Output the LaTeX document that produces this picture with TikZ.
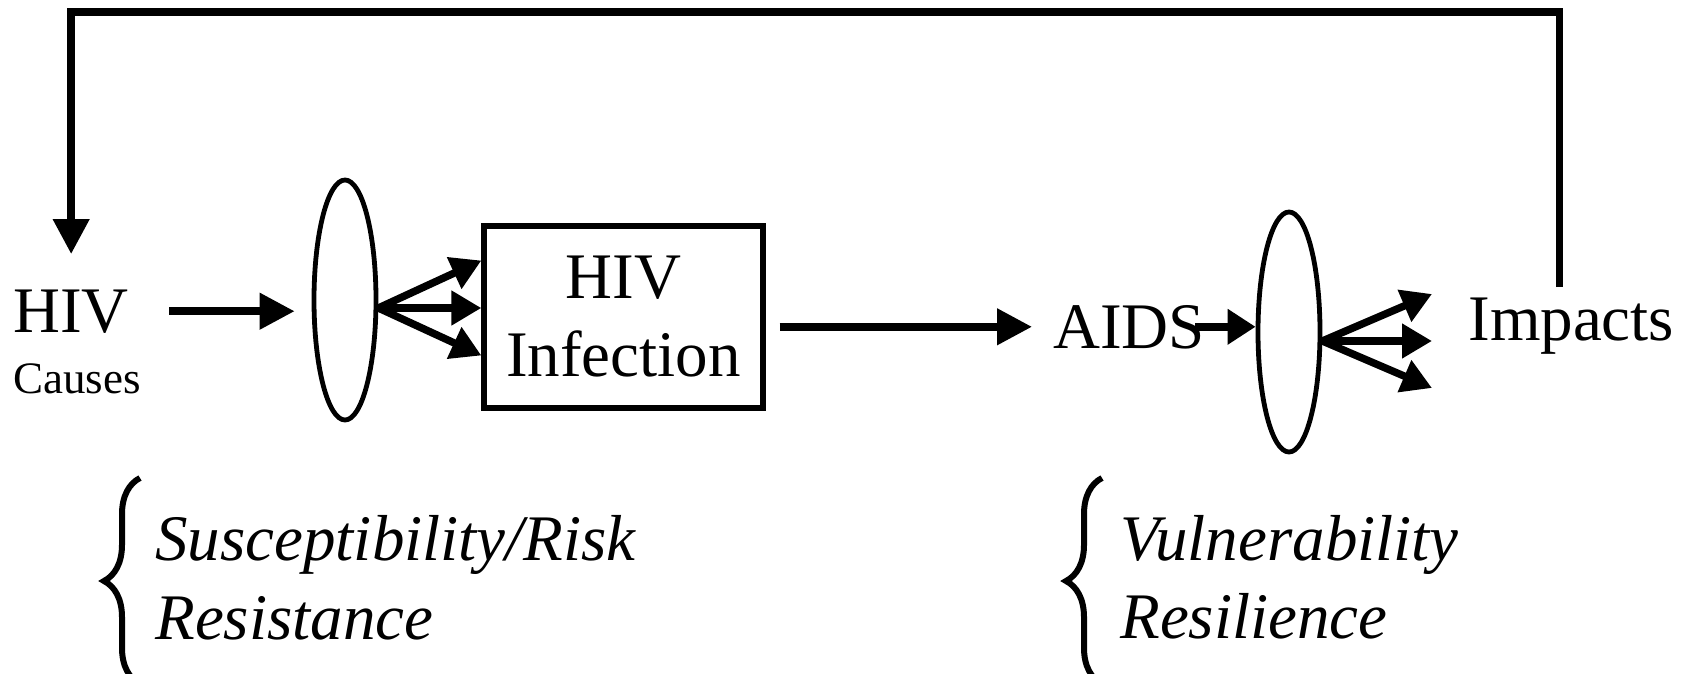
\documentclass[tikz,border=0pt]{standalone}
\usepackage{fontspec}
\setmainfont{Liberation Serif}
\usetikzlibrary{arrows.meta,shapes.geometric,calc,decorations.pathreplacing}
\newcommand\colorFlow{black}

\begin{document}
\begin{tikzpicture}[x=0.5pt,y=-0.5pt,
		>={Triangle[length=17.5pt,width=17.5pt]},
		flow/.style={->,line width=3.75pt,color=\colorFlow},
		fan/.style={flow,>={Triangle[length=15pt,width=16.5pt]}},
		lens/.style={ellipse,draw=\colorFlow,line width=2.4pt,minimum width=31pt,minimum height=120pt,inner sep=0pt},
		word/.style={inner sep=0pt,font=\fontsize{32.5pt}{39.5pt}\selectfont},
		factor/.style={inner sep=0pt,font=\fontsize{32.5pt}{39.5pt}\selectfont\itshape},
		bracket/.style={decorate,decoration={brace,amplitude=18pt},line width=3pt,color=\colorFlow}]
		
		\useasboundingbox (0,0) rectangle (1681,674);
		
		\node[word,anchor=base west] (hiv) at (13,332) {HIV};
		\node[inner sep=0pt,anchor=base west,font=\fontsize{22.5pt}{27pt}\selectfont] (causes) at (13,393) {Causes};
		\node[lens] (ellA) at (345,300) {};
		\node[draw=\colorFlow,line width=2.6pt,minimum width=139.5pt,minimum height=91pt,align=center,
			font=\fontsize{32.5pt}{39pt}\selectfont] (infection) at (623.5,317) {HIV\\Infection};
		\node[word,anchor=base west] (aids) at (1053,348) {AIDS};
		\node[lens] (ellB) at (1289,332) {};
		\node[word,anchor=base west] (impacts) at (1468,340) {Impacts};
		
		\node[factor,anchor=base west] (riskA) at (155,560) {Susceptibility/Risk};
		\node[factor,anchor=base west] (riskB) at (155,639) {Resistance};
		\node[factor,anchor=base west] (copeA) at (1120,560) {Vulnerability};
		\node[factor,anchor=base west] (copeB) at (1120,638) {Resilience};
		
		\draw[bracket] (140,684) -- (140,478);
		\draw[bracket] (1102,684) -- (1102,478);
		
		\draw[flow,shorten <=20pt,shorten >=8.5pt] (hiv.east) -- (hiv.east -| ellA.west);
		
		\coordinate (fanA) at ($(ellA.east)+(0,8)$);
		\foreach \dy in {-47.5,0,47.5}{
			\draw[fan] (fanA) -- ($(fanA -| infection.west)+(0,\dy)$);
		}
		
		\draw[flow,shorten <=7pt,shorten >=10.5pt] (infection.east |- aids.west) -- (aids.west);
		\draw[flow,shorten <=-5pt,>={Triangle[length=14pt,width=17pt]}] (aids.east) -- (aids.east -| ellB.west);
		
		\coordinate (fanB) at ($(ellB.east)+(0,9)$);
		\coordinate (tipB) at ($(fanB -| impacts.west)+(-36,0)$);
		\foreach \dy in {-47,0,47}{
			\draw[fan] (fanB) -- ($(tipB)+(0,\dy)$);
		}
		
		\draw[flow,shorten <=5pt,shorten >=17.5pt] ([xshift=-6pt]impacts.north) -- ++(0,-285) -| (hiv.north);
	\end{tikzpicture}
\end{document}
